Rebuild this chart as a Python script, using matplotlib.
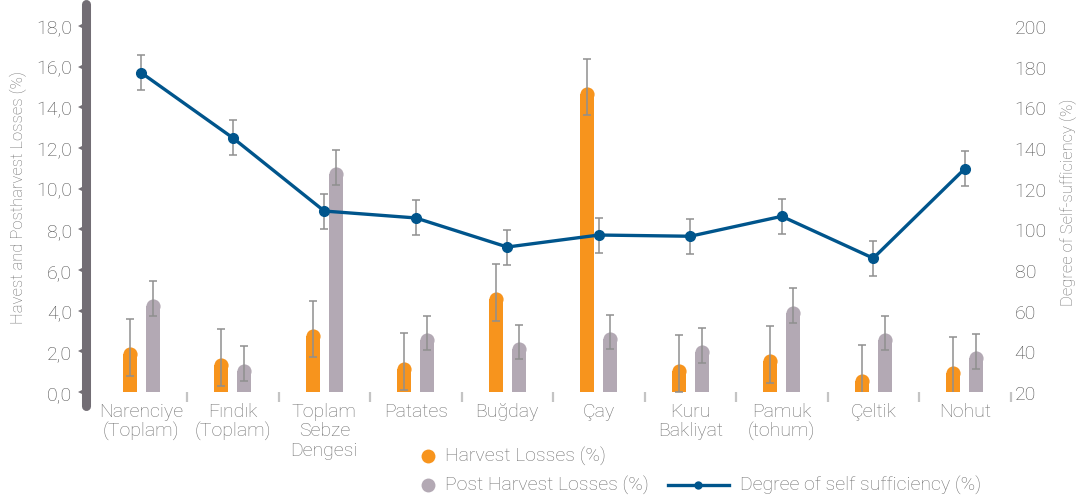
import matplotlib
matplotlib.use('Agg')
import matplotlib.pyplot as plt
from matplotlib.lines import Line2D
from matplotlib.ticker import FuncFormatter

categories = ["Narenciye\n(Toplam)", "Fındık\n(Toplam)", "Toplam\nSebze\nDengesi", "Patates",
              "Buğday", "Çay", "Kuru\nBakliyat", "Pamuk\n(tohum)", "Çeltik", "Nohut"]
harvest = [2.2, 1.7, 3.1, 1.5, 4.9, 15.0, 1.4, 1.85, 0.9, 1.3]
harvest_err = [1.4, 1.4, 1.4, 1.4, 1.4, 1.4, 1.4, 1.4, 1.4, 1.4]
post = [4.6, 1.4, 11.05, 2.9, 2.45, 2.95, 2.3, 4.25, 2.9, 2.0]
post_err = [0.85, 0.85, 0.85, 0.85, 0.85, 0.85, 0.85, 0.85, 0.85, 0.85]
self_suff = [177, 145, 109, 105.6, 91.3, 97.2, 96.6, 106.4, 85.8, 129.8]
self_err = [8.6, 8.6, 8.6, 8.6, 8.6, 8.6, 8.6, 8.6, 8.6, 8.6]
left_ticks = [0, 2, 4, 6, 8, 10, 12, 14, 16, 18]
right_ticks = [20, 40, 60, 80, 100, 120, 140, 160, 180, 200]

ORANGE = '#F7941D'
GREY = '#B3A9B4'
BLUE = '#00558C'
ERR = '#8f8f8f'
SPINE = '#726d74'
TXT = '#707070'
TICKTXT = '#4f4f4f'
FONT = 'Roboto'

W, H = 1079, 502
fig = plt.figure(figsize=(W / 100, H / 100), dpi=100)
ax_l, ax_r, ax_b, ax_t = 95.5, 1010.5, 393, 27
ax = fig.add_axes([ax_l / W, 1 - ax_b / H, (ax_r - ax_l) / W, (ax_b - ax_t) / H])
ax2 = ax.twinx()

x = list(range(len(categories)))
bw = 0.155
off = 0.126
px_per_unit = (ax_b - ax_t) / 18.0
bar_px = bw * (ax_r - ax_l) / 10.0
r = (bar_px / 2) / px_per_unit
cap_ms = bar_px * 0.72

for vals, errs, col, sgn in [(harvest, harvest_err, ORANGE, -1), (post, post_err, GREY, 1)]:
    xs = [xi + sgn * off for xi in x]
    ax.bar(xs, [v - r for v in vals], width=bw, color=col, linewidth=0, zorder=2)
    ax.plot(xs, [v - r for v in vals], 'o', color=col, ms=cap_ms, mew=0, zorder=2)
    ax.errorbar(xs, vals, yerr=errs, fmt='none', ecolor=ERR, elinewidth=1.1,
                capsize=3, capthick=1.1, zorder=3)

ax.set_xlim(-0.5, 9.5)
ax.set_ylim(0, 18)
ax.set_yticks(left_ticks)
ax.yaxis.set_major_formatter(FuncFormatter(lambda v, p: f"{v:.1f}".replace('.', ',')))
ax.tick_params(axis='y', length=0, pad=17, labelsize=14, labelcolor=TICKTXT)
ax.set_xticks(x)
ax.set_xticklabels(categories, fontsize=14, color=TXT, linespacing=1.1)
ax.tick_params(axis='x', length=0, pad=7)
ax.set_xticks([i + 0.5 for i in x], minor=True)
ax.tick_params(axis='x', which='minor', length=7, width=1.6, color='#c4c4c4', direction='out')
for lab in ax.get_yticklabels():
    lab.set_fontfamily(FONT)
    lab.set_fontweight('light')
for lab in ax.get_xticklabels():
    lab.set_fontfamily(FONT)
    lab.set_fontweight('light')
for s in ax.spines.values():
    s.set_visible(False)

# thick rounded left spine with triangle ticks
ax.plot([-0.0105, -0.0105], [-0.038, 1.06], transform=ax.transAxes, color=SPINE,
        lw=6.5, solid_capstyle='round', clip_on=False, zorder=5)
ax.plot([-0.016] * len(left_ticks), left_ticks, transform=ax.get_yaxis_transform(),
        marker='<', ls='none', color=SPINE, ms=5, mew=0, clip_on=False, zorder=5)

ax2.errorbar(x, self_suff, yerr=self_err, fmt='none', ecolor=ERR, elinewidth=1.1,
             capsize=3, capthick=1.1, zorder=3)
ax2.plot(x, self_suff, color=BLUE, lw=2.4, marker='o', ms=7, zorder=4)
ax2.set_ylim(20, 200)
ax2.set_yticks(right_ticks)
ax2.tick_params(axis='y', length=0, pad=3, labelsize=14, labelcolor=TICKTXT)
for lab in ax2.get_yticklabels():
    lab.set_fontfamily(FONT)
    lab.set_fontweight('light')
for s in ax2.spines.values():
    s.set_visible(False)

fig.text(18 / W, 1 - 198 / H, "Havest and Postharvest Losses (%)", rotation=90,
         ha='center', va='center', fontsize=12, color=TXT, family=FONT, fontweight='light')
fig.text(1068 / W, 1 - 202 / H, "Degree of Self-sufficiency (%)", rotation=90,
         ha='center', va='center', fontsize=12, color=TXT, family=FONT, fontweight='light')

# legend
def fx(px):
    return px / W

def fy(py):
    return 1 - py / H

fig.add_artist(Line2D([fx(428)], [fy(457)], marker='o', ms=10, color=ORANGE, mew=0))
fig.text(fx(445), fy(457), "Harvest Losses (%)", va='center', ha='left', fontsize=14,
         color=TXT, family=FONT, fontweight='light')
fig.add_artist(Line2D([fx(428)], [fy(486)], marker='o', ms=10, color=GREY, mew=0))
fig.text(fx(445), fy(486), "Post Harvest Losses (%)", va='center', ha='left', fontsize=14,
         color=TXT, family=FONT, fontweight='light')
fig.add_artist(Line2D([fx(668), fx(729)], [fy(486), fy(486)], color=BLUE, lw=2.4))
fig.add_artist(Line2D([fx(698)], [fy(486)], marker='o', ms=6, color=BLUE, mew=0))
fig.text(fx(740), fy(486), "Degree of self sufficiency (%)", va='center', ha='left', fontsize=14,
         color=TXT, family=FONT, fontweight='light')

fig.savefig('out.png', dpi=100)
